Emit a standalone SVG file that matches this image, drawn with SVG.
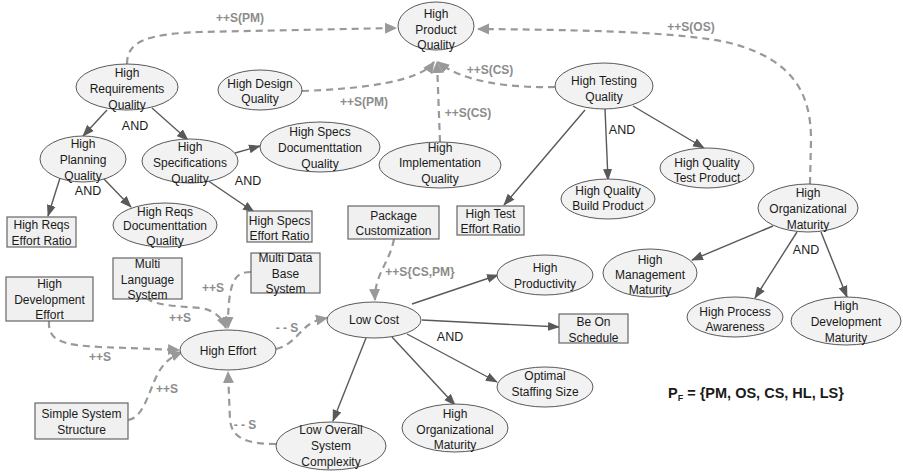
<svg xmlns="http://www.w3.org/2000/svg" width="903" height="472" viewBox="0 0 903 472">
<style>
.el{fill:#f2f2f2;stroke:#595959;stroke-width:1}
.bx{fill:#f0f0f0;stroke:#666;stroke-width:1.2}
text{font-family:"Liberation Sans",Arial,sans-serif;font-size:12px;fill:#1a1a1a}
.t{text-anchor:middle}
.and{text-anchor:middle;font-size:12.5px}
.lb{text-anchor:middle;fill:#8c8c8c;font-weight:bold;font-size:12px}
.sol{fill:none;stroke:#595959;stroke-width:1.4;marker-end:url(#ah)}
.dsh{fill:none;stroke:#999;stroke-width:2.2;stroke-dasharray:7 5;marker-end:url(#ahg)}
</style>
<defs>
<marker id="ah" viewBox="0 0 12 10" refX="11" refY="5" markerWidth="12" markerHeight="10" markerUnits="userSpaceOnUse" orient="auto"><path d="M0,0.5 L12,5 L0,9.5 z" fill="#595959"/></marker>
<marker id="ahg" viewBox="0 0 12 12" refX="11" refY="6" markerWidth="12" markerHeight="12" markerUnits="userSpaceOnUse" orient="auto"><path d="M0,0.5 L12,6 L0,11.5 z" fill="#999"/></marker>
</defs>
<rect width="903" height="472" fill="#fff"/>
<g id="connectors">
<path class="dsh" d="M127,64 C127,42 145,34 200,32 L396,28"/>
<path class="dsh" d="M810,184 L811,140 C811,95 795,60 730,43 C690,34 620,30 478,29"/>
<path class="dsh" d="M555,87 C510,88 462,82 438,62"/>
<path class="dsh" d="M302,91 C360,89 420,82 434,62"/>
<path class="dsh" d="M440,142 L437,62"/>
<path class="dsh" d="M394,239 C390,262 374,275 375,300"/>
<path class="dsh" d="M251,272 C235,272 228,280 228,328"/>
<path class="dsh" d="M147,297 C150,305 175,306 200,308 C215,310 222,318 226,328"/>
<path class="dsh" d="M49,321 C48,340 60,345 100,347 L179,350"/>
<path class="dsh" d="M128,420 C145,418 150,385 160,370 C165,362 172,356 182,352"/>
<path class="dsh" d="M276,349 C292,346 300,330 310,324 C316,320 322,319 327,318"/>
<path class="dsh" d="M276,444 C250,444 232,440 230,420 L228,372"/>
<path class="sol" d="M107,110 L83,136"/>
<path class="sol" d="M152,108 L188,140"/>
<path class="sol" d="M235,153 L260,146"/>
<path class="sol" d="M60,178 L48,216"/>
<path class="sol" d="M103,178 L131,207"/>
<path class="sol" d="M207,180 L254,212"/>
<path class="sol" d="M585,110 L504,205"/>
<path class="sol" d="M605,109 L608,180"/>
<path class="sol" d="M633,106 L704,148"/>
<path class="sol" d="M773,226 L692,260"/>
<path class="sol" d="M797,232 L755,298"/>
<path class="sol" d="M821,232 L847,297"/>
<path class="sol" d="M412,304 L498,275"/>
<path class="sol" d="M422,320 L559,327"/>
<path class="sol" d="M407,334 L497,382"/>
<path class="sol" d="M392,337 L455,405"/>
<path class="sol" d="M366,338 L333,421"/>
</g>
<g id="labels">
<text class="lb" x="240" y="22">++S(PM)</text>
<text class="lb" x="691" y="31">++S(OS)</text>
<text class="lb" x="490" y="74">++S(CS)</text>
<text class="lb" x="364" y="106">++S(PM)</text>
<text class="lb" x="468" y="117">++S(CS)</text>
<text class="lb" x="420" y="276">++S{CS,PM}</text>
<text class="lb" x="213" y="292">++S</text>
<text class="lb" x="180" y="322">++S</text>
<text class="lb" x="100" y="361">++S</text>
<text class="lb" x="167" y="393">++S</text>
<text class="lb" x="287" y="332">- - S</text>
<text class="lb" x="245" y="429">- - S</text>
<text class="and" x="135" y="130">AND</text>
<text class="and" x="88" y="195">AND</text>
<text class="and" x="248" y="185">AND</text>
<text class="and" x="622" y="134">AND</text>
<text class="and" x="806" y="254">AND</text>
<text class="and" x="450" y="341">AND</text>
<text x="668" y="398" style="font-weight:bold;font-size:14.5px">P<tspan style="font-size:9px" dy="3">F</tspan><tspan dy="-3"> = {PM, OS, CS, HL, LS}</tspan></text>
</g>
<g id="n-hpq"><ellipse class="el" cx="436" cy="26" rx="38" ry="24"/><text class="t"><tspan x="436" y="17.5">High</tspan><tspan x="436" y="33.5">Product</tspan><tspan x="436" y="48.5">Quality</tspan></text></g>
<g id="n-hrq"><ellipse class="el" cx="127" cy="87" rx="51" ry="23"/><text class="t"><tspan x="127" y="76.5">High</tspan><tspan x="127" y="92.5">Requirements</tspan><tspan x="127" y="108.5">Quality</tspan></text></g>
<g id="n-hdq"><ellipse class="el" cx="260" cy="90" rx="42" ry="20"/><text class="t"><tspan x="260" y="87.5">High Design</tspan><tspan x="260" y="102.5">Quality</tspan></text></g>
<g id="n-htq"><ellipse class="el" cx="604" cy="86" rx="49" ry="23"/><text class="t"><tspan x="604" y="84.5">High Testing</tspan><tspan x="604" y="100.5">Quality</tspan></text></g>
<g id="n-hplq"><ellipse class="el" cx="83" cy="159" rx="43" ry="23"/><text class="t"><tspan x="83" y="147.5">High</tspan><tspan x="83" y="163.5">Planning</tspan><tspan x="83" y="179.5">Quality</tspan></text></g>
<g id="n-hsq"><ellipse class="el" cx="190" cy="161" rx="48" ry="22"/><text class="t"><tspan x="190" y="150.5">High</tspan><tspan x="190" y="166.5">Specifications</tspan><tspan x="190" y="182.5">Quality</tspan></text></g>
<g id="n-hsdq"><ellipse class="el" cx="320" cy="147" rx="60" ry="25"/><text class="t"><tspan x="320" y="135.5">High Specs</tspan><tspan x="320" y="151.5">Documenttation</tspan><tspan x="320" y="167.5">Quality</tspan></text></g>
<g id="n-hiq"><ellipse class="el" cx="440" cy="165" rx="61" ry="23"/><text class="t"><tspan x="440" y="151.5">High</tspan><tspan x="440" y="166.5">Implementation</tspan><tspan x="440" y="182.5">Quality</tspan></text></g>
<g id="n-hqtp"><ellipse class="el" cx="707" cy="168" rx="47" ry="20"/><text class="t"><tspan x="707" y="166.5">High Quality</tspan><tspan x="707" y="181.5">Test Product</tspan></text></g>
<g id="n-hqbp"><ellipse class="el" cx="608" cy="199" rx="47" ry="20"/><text class="t"><tspan x="608" y="194.5">High Quality</tspan><tspan x="608" y="209.5">Build Product</tspan></text></g>
<g id="n-hom1"><ellipse class="el" cx="808" cy="208" rx="50" ry="24"/><text class="t"><tspan x="808" y="196.5">High</tspan><tspan x="808" y="212.5">Organizational</tspan><tspan x="808" y="228.5">Maturity</tspan></text></g>
<g id="n-hmm"><ellipse class="el" cx="650" cy="273" rx="47" ry="24"/><text class="t"><tspan x="650" y="263.5">High</tspan><tspan x="650" y="278.5">Management</tspan><tspan x="650" y="293.5">Maturity</tspan></text></g>
<g id="n-hpa"><ellipse class="el" cx="735" cy="317" rx="48" ry="20"/><text class="t"><tspan x="735" y="315.5">High Process</tspan><tspan x="735" y="330.5">Awareness</tspan></text></g>
<g id="n-hdm"><ellipse class="el" cx="846" cy="321" rx="55" ry="24"/><text class="t"><tspan x="846" y="309.5">High</tspan><tspan x="846" y="325.5">Development</tspan><tspan x="846" y="341.5">Maturity</tspan></text></g>
<g id="n-hrdq"><ellipse class="el" cx="165" cy="225" rx="52" ry="22"/><text class="t"><tspan x="165" y="215.5">High Reqs</tspan><tspan x="165" y="229.5">Documenttation</tspan><tspan x="165" y="244.5">Quality</tspan></text></g>
<g id="n-he"><ellipse class="el" cx="228" cy="350" rx="48" ry="20"/><text class="t" x="228" y="354.5">High Effort</text></g>
<g id="n-loc"><ellipse class="el" cx="331" cy="446" rx="55" ry="24"/><text class="t"><tspan x="331" y="433.5">Low Overall</tspan><tspan x="331" y="449.5">System</tspan><tspan x="331" y="465.5">Complexity</tspan></text></g>
<g id="n-lc"><ellipse class="el" cx="374" cy="320" rx="47" ry="18"/><text class="t" x="374" y="323.5">Low Cost</text></g>
<g id="n-hp"><ellipse class="el" cx="545" cy="275" rx="48" ry="20"/><text class="t"><tspan x="545" y="271.5">High</tspan><tspan x="545" y="287.5">Productivity</tspan></text></g>
<g id="n-oss"><ellipse class="el" cx="545" cy="387" rx="48" ry="20"/><text class="t"><tspan x="545" y="379.5">Optimal</tspan><tspan x="545" y="395.5">Staffing Size</tspan></text></g>
<g id="n-hom2"><ellipse class="el" cx="455" cy="428" rx="53" ry="24"/><text class="t"><tspan x="455" y="417.5">High</tspan><tspan x="455" y="433.5">Organizational</tspan><tspan x="455" y="448.5">Maturity</tspan></text></g>
<g id="n-hrer"><rect class="bx" x="7" y="217" width="69" height="30"/><text class="t"><tspan x="41.5" y="228.5">High Reqs</tspan><tspan x="41.5" y="244.5">Effort Ratio</tspan></text></g>
<g id="n-hser"><rect class="bx" x="247" y="211" width="65" height="31"/><text class="t"><tspan x="279.5" y="224.5">High Specs</tspan><tspan x="279.5" y="239.5">Effort Ratio</tspan></text></g>
<g id="n-hter"><rect class="bx" x="457" y="206" width="67" height="29"/><text class="t"><tspan x="490.5" y="217.5">High Test</tspan><tspan x="490.5" y="232.5">Effort Ratio</tspan></text></g>
<g id="n-pc"><rect class="bx" x="348" y="206" width="91" height="33"/><text class="t"><tspan x="393.5" y="219.5">Package</tspan><tspan x="393.5" y="234.5">Customization</tspan></text></g>
<g id="n-mls"><rect class="bx" x="113" y="258" width="69" height="41"/><text class="t"><tspan x="147.5" y="267.5">Multi</tspan><tspan x="147.5" y="283.5">Language</tspan><tspan x="147.5" y="298.5">System</tspan></text></g>
<g id="n-mdbs"><rect class="bx" x="251" y="253" width="69" height="40"/><text class="t"><tspan x="285.5" y="261.5">Multi Data</tspan><tspan x="285.5" y="277.5">Base</tspan><tspan x="285.5" y="292.5">System</tspan></text></g>
<g id="n-hde"><rect class="bx" x="6" y="277" width="87" height="44"/><text class="t"><tspan x="49.5" y="287.5">High</tspan><tspan x="49.5" y="303.5">Development</tspan><tspan x="49.5" y="318.5">Effort</tspan></text></g>
<g id="n-sss"><rect class="bx" x="35" y="403" width="93" height="36"/><text class="t"><tspan x="81.5" y="417.5">Simple System</tspan><tspan x="81.5" y="433.5">Structure</tspan></text></g>
<g id="n-bos"><rect class="bx" x="559" y="314" width="69" height="29"/><text class="t"><tspan x="593.5" y="325.5">Be On</tspan><tspan x="593.5" y="341.5">Schedule</tspan></text></g>
</svg>
